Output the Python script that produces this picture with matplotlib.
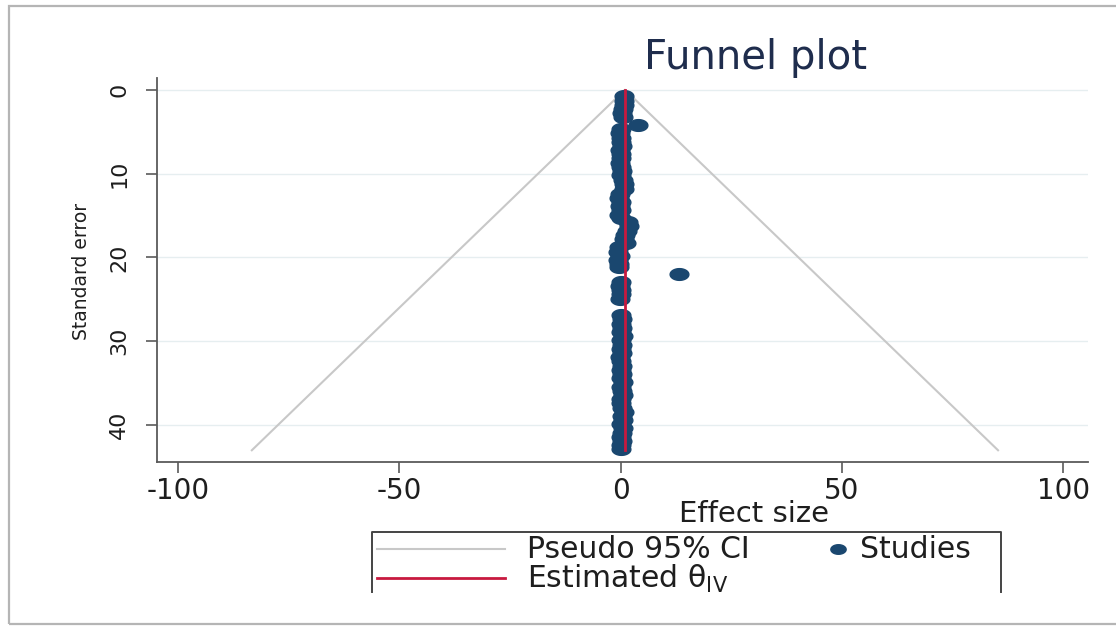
import numpy as np
import matplotlib.pyplot as plt
from matplotlib.path import Path
from matplotlib.patches import Rectangle
from matplotlib.lines import Line2D

plt.rcParams['font.family'] = ['DejaVu Sans']
plt.rcParams['axes.unicode_minus'] = False

# study standard errors and effect sizes
se = [0.8, 1.3, 1.8, 2.3, 2.8, 3.3, 4.2,
      4.7, 5.2, 5.7, 6.2, 6.7, 7.2, 7.7, 8.2, 8.7, 9.2, 9.7, 10.2,
      10.8, 11.3, 11.8,
      12.4, 12.9, 13.4, 13.9, 14.4, 14.9, 15.3,
      15.8, 16.3, 16.8, 17.3, 17.8, 18.3,
      18.8, 19.3, 19.8, 20.3, 20.8, 21.2, 22.0,
      22.9, 23.4, 23.9, 24.4, 24.9,
      26.9, 27.4, 27.9, 28.4, 28.9, 29.4, 29.9, 30.4, 30.9, 31.4, 31.9,
      32.4, 32.9, 33.4, 33.9, 34.4, 34.9, 35.4, 35.9, 36.4, 36.9, 37.4,
      37.9, 38.4, 38.9, 39.4, 39.9, 40.4, 40.9, 41.4, 41.9, 42.4, 42.9]
effect = [0.9, 0.7, 0.9, 0.5, 0.3, 0.6, 4.0,
          0.1, -0.1, 0.2, 0.0, 0.3, -0.1, 0.1, 0.2, -0.2, 0.0, 0.3, 0.1,
          0.6, 0.9, 0.8,
          -0.2, -0.3, 0.0, -0.2, 0.1, -0.3, 0.2,
          1.6, 1.9, 1.4, 1.1, 0.9, 1.2,
          -0.3, -0.5, -0.2, -0.6, -0.4, -0.3, 13.3,
          0.0, -0.1, 0.2, 0.0, -0.2,
          0.2, 0.4, 0.1, 0.3, 0.0, 0.5, 0.2, 0.3, 0.1, 0.4, -0.1,
          0.2, 0.3, 0.0, 0.4, 0.2, 0.6, 0.1, 0.3, 0.5, 0.2, 0.0,
          0.4, 0.7, 0.3, 0.5, 0.2, 0.6, 0.4, 0.1, 0.3, 0.2, 0.0]

theta_iv = 1.0
se_max = 43
xticks = [-100, -50, 0, 50, 100]
yticks = [0, 10, 20, 30, 40]

navy = '#1a476f'
crimson = '#c8193f'
ci_gray = '#c8c8c8'
axis_gray = '#5a5a5a'
text_col = '#1e1e1e'

W, H = 1116, 630
fig = plt.figure(figsize=(W / 100, H / 100), dpi=100)
fig.patch.set_facecolor('white')

# screenshot card border
fig.patches.append(Rectangle((9 / W, 1 - 624 / H), 1.2, (624 - 6) / H,
                             transform=fig.transFigure, fill=False,
                             edgecolor='#b5b5b5', lw=1.6))

ax = fig.add_axes([157 / W, 1 - 462 / H, (1088 - 157) / W, (462 - 78) / H])
ax.set_xlim(-104.7, 105.6)
ax.set_ylim(44.4, -1.4)

for s in ['top', 'right']:
    ax.spines[s].set_visible(False)
for s in ['left', 'bottom']:
    ax.spines[s].set_color(axis_gray)
    ax.spines[s].set_linewidth(1.3)

ax.set_xticks(xticks)
ax.set_yticks(yticks)
ax.tick_params(axis='both', colors=axis_gray, length=8, width=1.2,
               labelcolor=text_col)
ax.tick_params(axis='x', labelsize=20, pad=3)
ax.tick_params(axis='y', labelsize=16, pad=12)
for lab in ax.get_yticklabels():
    lab.set_rotation(90)
    lab.set_va('center')
ax.grid(axis='y', color='#e6eef0', lw=1.0)
ax.set_axisbelow(True)

# pseudo 95% CI funnel
ax.plot([theta_iv - 1.96 * se_max, theta_iv, theta_iv + 1.96 * se_max],
        [se_max, 0, se_max], color=ci_gray, lw=1.5, zorder=2)

# elliptical marker, as the picture is stretched sideways
t = np.linspace(0, 2 * np.pi, 61)
ellipse = Path(np.column_stack([1.6 * np.cos(t), np.sin(t)]), closed=True)
ax.plot(effect, se, linestyle='none', marker=ellipse, ms=13.5,
        color=navy, mec=navy, zorder=3)

ax.plot([theta_iv, theta_iv], [0, se_max], color=crimson, lw=2, zorder=4)

ax.set_xlabel('Effect size', fontsize=21, color=text_col)
ax.xaxis.set_label_coords(0.641, -0.098)
ax.set_ylabel('Standard error', fontsize=13.5, color=text_col)
ax.yaxis.set_label_coords(-0.071, 0.497)

fig.text(756 / W, 1 - 58 / H, 'Funnel plot', fontsize=29, color='#1f2d4d',
         ha='center', va='center')


# legend box (bottom edge cut off in the picture)
def fx(px):
    return px / W


def fy(py):
    return 1 - py / H


box_x = [fx(372), fx(372), fx(1001), fx(1001)]
box_y = [fy(592), fy(532), fy(532), fy(592)]
fig.lines.append(Line2D(box_x, box_y, transform=fig.transFigure,
                        color='#444444', lw=1.4))
fig.lines.append(Line2D([fx(377), fx(505)], [fy(549), fy(549)],
                        transform=fig.transFigure, color=ci_gray, lw=1.5))
fig.lines.append(Line2D([fx(377), fx(505)], [fy(578), fy(578)],
                        transform=fig.transFigure, color=crimson, lw=2))
fig.lines.append(Line2D([fx(838)], [fy(549)], transform=fig.transFigure,
                        marker=ellipse, ms=11, color=navy, linestyle='none'))
fig.text(fx(527), fy(550), 'Pseudo 95% CI', fontsize=21.5, color=text_col,
         va='center')
fig.text(fx(860), fy(550), 'Studies', fontsize=21.5, color=text_col,
         va='center')
fig.text(fx(527), fy(579), r'Estimated θ$_\mathregular{IV}$', fontsize=21.5,
         color=text_col, va='center')

fig.savefig('out.png', dpi=100)
